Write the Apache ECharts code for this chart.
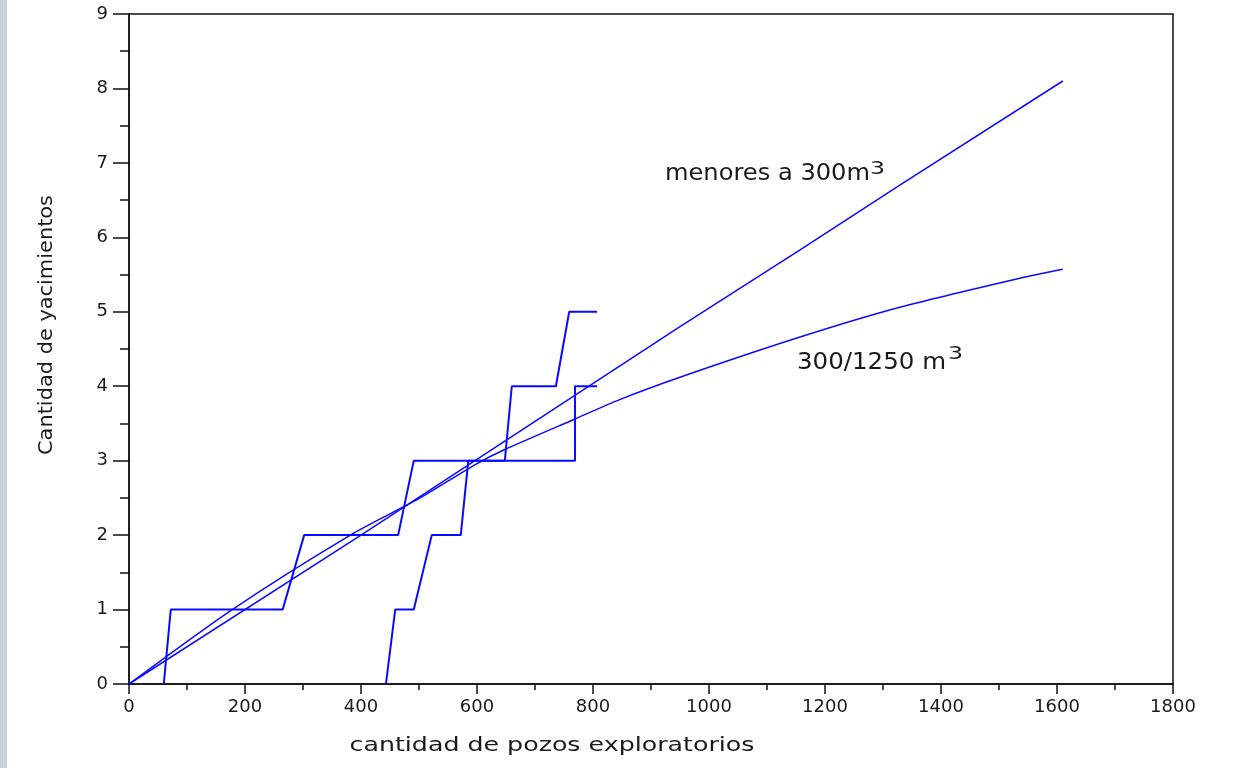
<!DOCTYPE html>
<html>
<head>
<meta charset="utf-8">
<script src="https://cdn.jsdelivr.net/npm/echarts@6/dist/echarts.min.js"></script>
<style>
html,body{margin:0;padding:0;background:#fff;}
#c{width:1245px;height:768px;}
</style>
</head>
<body>
<div id="c"></div>
<script>
// ---- data ----
const xTicks = [0, 200, 400, 600, 800, 1000, 1200, 1400, 1600, 1800];
const yTicks = [0, 1, 2, 3, 4, 5, 6, 7, 8, 9];

// step curve 1 (observed, starting near origin)
const step1X = [60, 72, 265, 302, 464, 491, 648, 660, 736, 759, 807];
const step1Y = [0, 1, 1, 2, 2, 3, 3, 4, 4, 5, 5];

// step curve 2 (observed, starting near 445)
const step2X = [443, 459, 491, 522, 572, 585, 769, 769, 807];
const step2Y = [0, 1, 1, 2, 2, 3, 3, 4, 4];

// fitted curve "menores a 300 m3" (almost straight)
const fitAX = [0, 400, 950, 1157, 1329, 1610];
const fitAY = [0, 2.0, 4.80, 5.83, 6.70, 8.10];

// fitted curve "300/1250 m3" (concave)
const fitBX = [0, 178, 386, 502, 600, 648, 769, 846, 950, 1157, 1329, 1536, 1610];
const fitBY = [0, 1.0, 2.02, 2.5, 2.96, 3.15, 3.56, 3.82, 4.12, 4.66, 5.06, 5.45, 5.57];

const xName = 'cantidad de pozos exploratorios';
const yName = 'Cantidad de yacimientos';
const labelA = 'menores a 300m';
const labelB = '300/1250 m';
const supText = '3';

function pairs(xs, ys) { return xs.map((x, i) => [x, ys[i]]); }

const FONT = '"DejaVu Sans"';
function textWidth(t, px) {
  const c = document.createElement('canvas').getContext('2d');
  c.font = px + 'px ' + FONT; return c.measureText(t).width;
}
// text element stretched horizontally to the width it has in the reference
function fitted(text, px, width, opts) {
  const sx = width / textWidth(text, px);
  return Object.assign({
    type: 'text', scaleX: sx, silent: true,
    style: {text: text, font: px + 'px ' + FONT, fill: '#1a1a1a',
            textAlign: opts.align || 'left', textVerticalAlign: 'middle'}
  }, opts.el);
}

const blue = '#0a0aff';
const chart = echarts.init(document.getElementById('c'), null, {renderer: 'canvas'});
const axisFont = {fontFamily: 'DejaVu Sans', fontSize: 18, color: '#1a1a1a'};

chart.setOption({
  backgroundColor: '#ffffff',
  animation: false,
  grid: {left: 129, right: 72, top: 14, bottom: 84, show: true, borderColor: '#111', borderWidth: 1.5, backgroundColor: 'transparent'},
  xAxis: {
    type: 'value', min: 0, max: 1800, interval: 200,
    axisLine: {show: true, lineStyle: {color: '#111', width: 1.5}},
    axisTick: {show: true, inside: false, length: 10, lineStyle: {color: '#111', width: 1.5}},
    minorTick: {show: true, splitNumber: 2, length: 6, lineStyle: {color: '#111', width: 1.5}},
    splitLine: {show: false},
    axisLabel: Object.assign({margin: 14, formatter: v => String(v)}, axisFont)
  },
  yAxis: {
    type: 'value', min: 0, max: 9, interval: 1,
    axisLine: {show: true, lineStyle: {color: '#111', width: 1.5}},
    axisTick: {show: true, inside: false, length: 16, lineStyle: {color: '#111', width: 1.5}},
    minorTick: {show: true, splitNumber: 2, length: 9, lineStyle: {color: '#111', width: 1.5}},
    splitLine: {show: false},
    axisLabel: Object.assign({margin: 21, formatter: v => String(v)}, axisFont)
  },
  series: [
    {type: 'line', data: pairs(step1X, step1Y), showSymbol: false, lineStyle: {color: blue, width: 2}, z: 3},
    {type: 'line', data: pairs(step2X, step2Y), showSymbol: false, lineStyle: {color: blue, width: 2}, z: 3},
    {type: 'line', data: pairs(fitAX, fitAY), showSymbol: false, lineStyle: {color: blue, width: 1.5}, z: 2},
    {type: 'line', data: pairs(fitBX, fitBY), showSymbol: false, smooth: 0.25, lineStyle: {color: blue, width: 1.5}, z: 2}
  ],
  graphic: [
    {type: 'rect', left: 0, top: 0, shape: {width: 7, height: 768}, style: {fill: '#c8d2da'}, silent: true},
    fitted(xName, 20, 405, {align: 'center', el: {x: 552, y: 746}}),
    fitted(yName, 20, 260, {align: 'center', el: {x: 47, y: 325, rotation: Math.PI / 2}}),
    fitted(labelA, 23, 205, {el: {x: 665, y: 174}}),
    fitted(supText, 17, 15, {el: {x: 870, y: 170}}),
    fitted(labelB, 23, 149, {el: {x: 797, y: 363}}),
    fitted(supText, 17, 15, {el: {x: 948, y: 355}})
  ]
});
</script>
</body>
</html>
